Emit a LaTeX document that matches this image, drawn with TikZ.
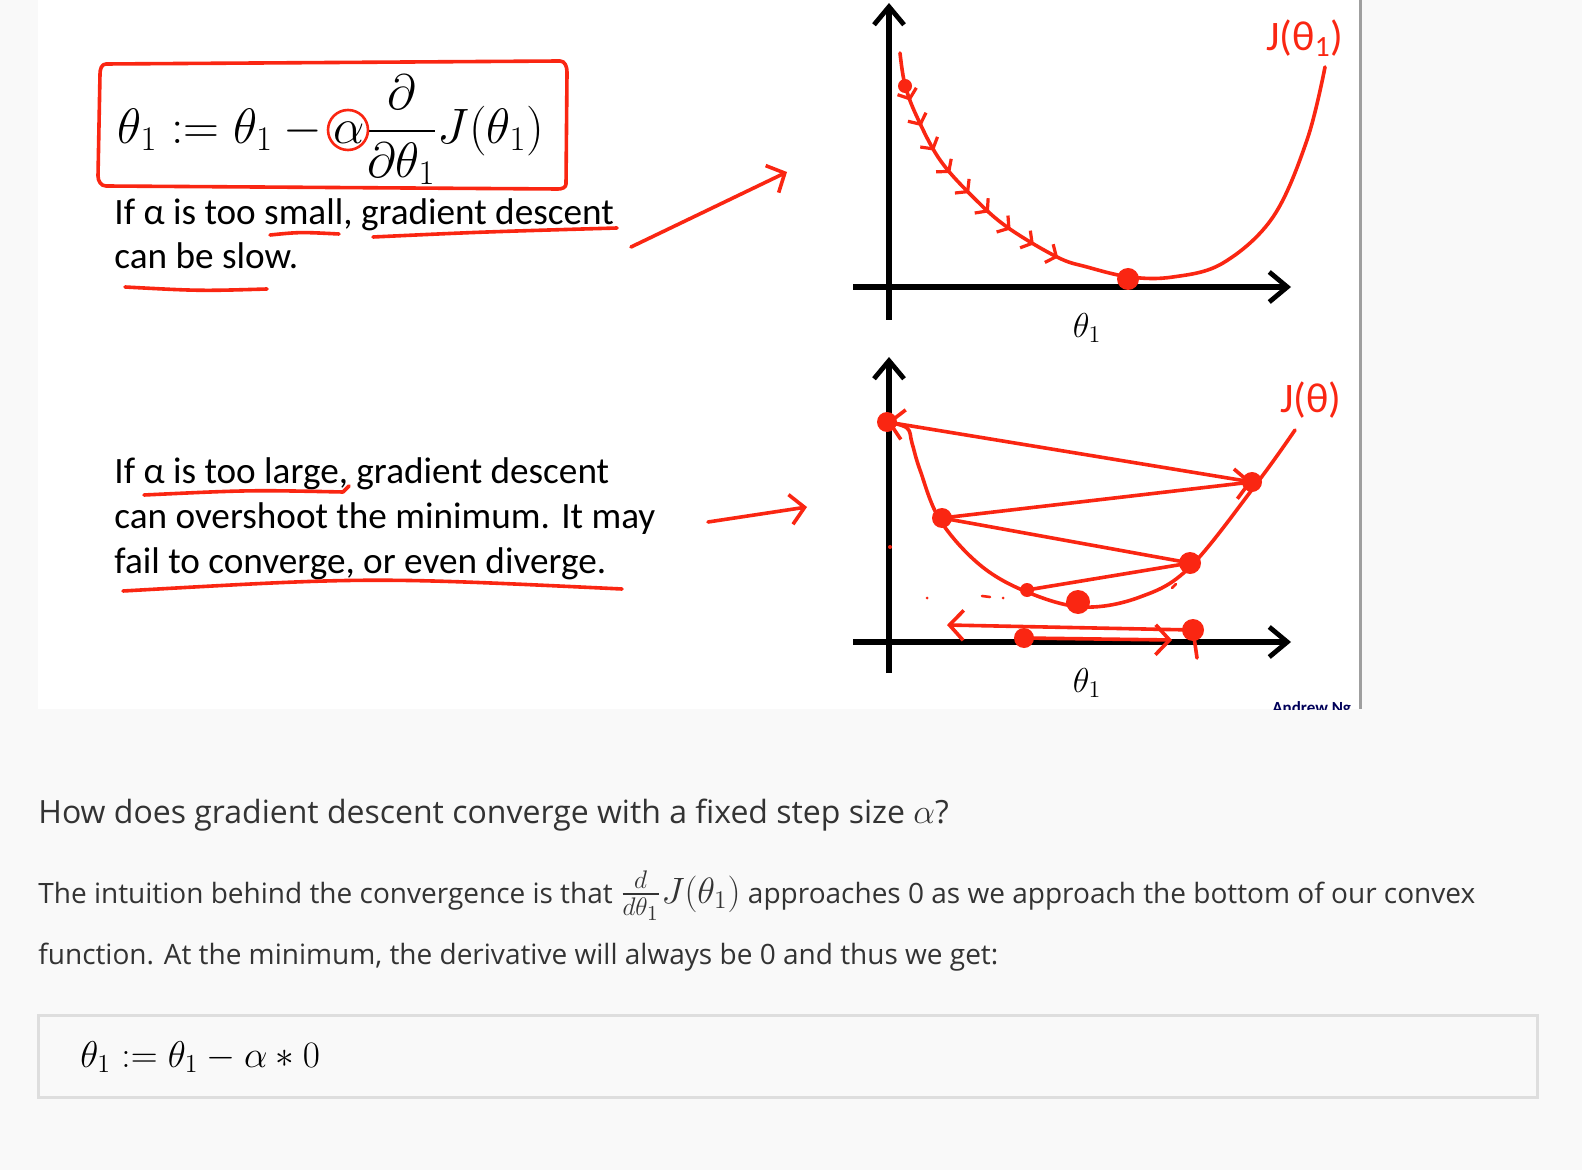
\documentclass[tikz,border=0pt]{standalone}
\usepackage{amsmath,amssymb}
\usepackage{graphicx}
\usepackage{fontspec}
\usepackage{xcolor}
\usepackage{tikz}
\usetikzlibrary{arrows.meta,positioning,calc,decorations.markings}

\newfontfamily\slidefont{Carlito}
\newfontfamily\notefont{Open Sans}

\definecolor{pagegray}{RGB}{249,249,249}
\definecolor{inkred}{RGB}{250,38,18}
\definecolor{notetext}{RGB}{51,51,51}
\definecolor{boxline}{RGB}{222,222,222}

\begin{document}
\begin{tikzpicture}[
    x=0.5pt, y=-0.5pt,
    ink/.style={draw=inkred, line width=1.8pt, line cap=round, line join=round},
    barb/.style={-{Straight Barb[length=7pt, width=15pt, line width=1.8pt]}},
    axis/.style={draw=black, line width=2.6pt, -{Straight Barb[length=9pt, width=15pt, line width=2.4pt]}},
    dot/.style={circle, fill=inkred, inner sep=0pt, minimum size=#1},
    dot/.default=6pt,
    slide/.style={font=\slidefont\fontsize{18.6}{21}\selectfont, anchor=base west, inner sep=0pt},
    note/.style={font=\notefont\fontsize{14}{17}\selectfont, text=notetext, anchor=base west, inner sep=0pt},
    thlabel/.style={font=\fontsize{18}{20}\selectfont, inner sep=0pt},
    handlabel/.style={font=\slidefont\fontsize{21}{24}\selectfont, text=inkred, inner sep=0pt}
]
  \useasboundingbox (0,0) rectangle (1582,1170);
  \fill[pagegray] (0,0) rectangle (1582,1170);
  \fill[white] (38,0) rectangle (1360,709);
  \draw[gray!75, line width=1.5pt] (1360,0) -- (1360,709);

  % update rule
  \node[inner sep=0pt] (update) at (331,130)
    {\fontsize{24}{28}\selectfont $\displaystyle \theta_1 := \theta_1 - \alpha\frac{\partial}{\partial\theta_1}J(\theta_1)$};
  \draw[ink] (106,64) -- (560,61) to[out=0, in=90] (567,72) -- (566,184)
    to[out=-90, in=0] (558,189) -- (106,186) to[out=180, in=-90] (98,176) -- (100,74) to[out=90, in=180] cycle;
  \draw[ink, line width=1.3pt] (348,130) circle[radius=20];

  % slide text
  \node[slide] (small1) at (114,225) {If α is too small, gradient descent};
  \node[slide] (small2) at (114,269) {can be slow.};
  \node[slide] (large1) at (114,483) {If α is too large, gradient descent};
  \node[slide] (large2) at (114,528) {can overshoot the minimum. It may};
  \node[slide] (large3) at (114,573) {fail to converge, or even diverge.};

  \draw[ink] (270,235) .. controls (300,232) .. (339,234);
  \draw[ink] (373,237) .. controls (480,232) .. (617,228);
  \draw[ink] (125,287) .. controls (200,291) .. (267,289);
  \draw[ink] (144,495) .. controls (250,490) .. (343,492) -- (349,486);
  \draw[ink] (123,591) .. controls (370,577) .. (622,589);

  % pointers to the plots
  \coordinate (slowtail) at (631,247);
  \coordinate (slowtip)  at (787,172);
  \coordinate (largetail) at (708,522);
  \coordinate (largetip)  at (807,507);
  \draw[ink, barb] (slowtail) -- (slowtip);
  \draw[ink, barb] (largetail) -- (largetip);

  % top plot: small alpha
  \draw[axis] (889,320) -- (889,3);
  \draw[axis] (853,287) -- (1291,287);
  \node[thlabel] (theta1) at (1087,328) {$\theta_1$};
  \draw[ink] plot[smooth, tension=0.6] coordinates {(900,53) (905,85) (917,117) (940,160) (973,197)
    (1007,227) (1057,257) (1087,267) (1130,277) (1173,277) (1223,263) (1273,217) (1307,140) (1325,67)};
  \path[decoration={markings, mark=between positions 0.06 and 0.96 step 0.1
      with {\arrow[inkred, line width=1.6pt]{Straight Barb[length=4pt, width=10pt]}}}, decorate]
    plot[smooth, tension=0.6] coordinates {(905,85) (917,117) (940,160) (973,197) (1007,227) (1057,257) (1095,269)};
  \node[dot=7pt] (start1) at (905,86) {};
  \node[dot=11pt] (min1) at (1128,279) {};

  % bottom plot: large alpha
  \draw[axis] (889,673) -- (889,357);
  \draw[axis] (853,642) -- (1291,642);
  \node[thlabel] (theta2) at (1087,683) {$\theta_1$};
  \draw[ink] plot[smooth, tension=0.6] coordinates {(887,422) (907,428) (912,443) (920,470) (940,520)
    (980,565) (1027,592) (1083,607) (1140,597) (1190,567) (1257,483) (1295,430)};
  \coordinate (A) at (887,422);
  \coordinate (B) at (1252,482);
  \coordinate (C) at (942,518);
  \coordinate (D) at (1190,563);
  \coordinate (E) at (1027,590);
  \draw[ink] (E) -- (D);
  \draw[ink] (D) -- (C);
  \draw[ink, barb] (C) -- (B);
  \draw[ink, barb] (B) -- (A);
  \node[dot=10pt] at (A) {};
  \node[dot=10pt] at (B) {};
  \node[dot=10pt] at (C) {};
  \node[dot=11pt] at (D) {};
  \node[dot=7pt] at (E) {};
  \node[dot=12pt] (min2) at (1078,602) {};

  \coordinate (R0) at (1193,630);
  \coordinate (L0) at (1024,638);
  \draw[ink, barb] (R0) -- (947,625);
  \draw[ink, barb] (L0) -- (1172,640);
  \draw[ink] (R0) -- (1197,658);
  \node[dot=11pt] at (R0) {};
  \node[dot=10pt] at (L0) {};
  \fill[inkred] (890,547) circle[radius=2];
  \fill[inkred] (927,598) circle[radius=1.5];
  \draw[ink, line width=1.3pt] (982,596) -- (990,597);
  \fill[inkred] (1003,598) circle[radius=1.5];
  \draw[ink, line width=1.3pt] (1172,588) -- (1176,584);

  % clipped slide corner
  \begin{scope}
    \clip (38,0) rectangle (1359,709);
    \node[handlabel, anchor=west] (Jtop) at (1266,38) {J(θ\textsubscript{1})};
    \node[handlabel, anchor=west] (Jbot) at (1280,400) {J(θ)};
    \node[font=\slidefont\bfseries\fontsize{8.5}{9}\selectfont, text=blue!35!black, anchor=base west, inner sep=0pt]
      (credit) at (1272,713) {Andrew Ng};
  \end{scope}

  % notes below
  \node[note, font=\notefont\fontsize{16}{19}\selectfont] (question) at (38,823)
    {How does gradient descent converge with a fixed step size $\alpha$?};
  \node[note] (para1) at (38,903)
    {The intuition behind the convergence is that \scalebox{1.06}{\fontsize{17.28}{20}\selectfont$\frac{d}{d\theta_1}J(\theta_1)$} approaches 0 as we approach the bottom of our convex};
  \node[note] (para2) at (38,964)
    {function. At the minimum, the derivative will always be 0 and thus we get:};
  \draw[boxline, fill=pagegray, line width=1.5pt] (38,1015) rectangle (1537,1097);
  \node[anchor=base west, inner sep=0pt] (result) at (80,1067)
    {\scalebox{1.078}{\fontsize{17.28}{22}\selectfont $\theta_1 := \theta_1 - \alpha * 0$}};
\end{tikzpicture}
\end{document}
